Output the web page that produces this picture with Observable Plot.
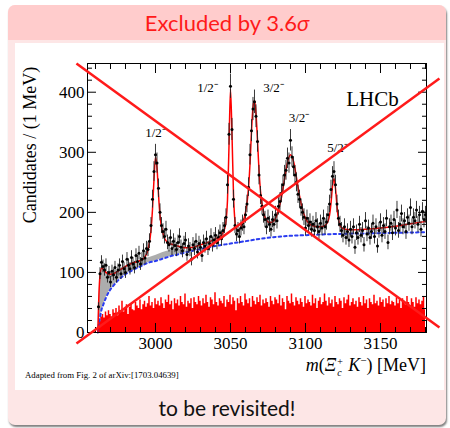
<!DOCTYPE html>
<html>
<head>
<meta charset="utf-8">
<script src="https://cdn.jsdelivr.net/npm/d3@7"></script>
<script src="https://cdn.jsdelivr.net/npm/@observablehq/plot@0.6"></script>
<style>
  body { margin:0; width:450px; height:428px; background:#fff; position:relative; overflow:hidden; }
  #block { position:absolute; left:8px; top:5px; width:438px; height:420px; border-radius:7px; background:#fde6e6; box-shadow:1px 2px 2px rgba(0,0,0,0.5); overflow:hidden; }
  #title { position:absolute; left:0; top:0; width:100%; height:35px; background:#ffcccc; color:#ff1a1a; font-family:Lato, sans-serif; font-size:22px; line-height:35px; text-align:center; }
  #panel { position:absolute; left:7px; top:38px; width:429px; height:347px; background:#fff; }
  #footer { position:absolute; left:0; top:390px; width:100%; text-align:center; font-family:Lato, sans-serif; font-size:21px; color:#111; }
  .serif { font-family:"Liberation Serif", serif; color:#000; position:absolute; white-space:nowrap; }
  .stack { display:inline-block; vertical-align:-5px; line-height:11px; font-size:10px; margin-left:1px; margin-right:1px; }
  .stack span { display:block; }
</style>
</head>
<body>
<div id="block">
  <div id="title">Excluded by 3.6<i>σ</i></div>
  <div id="panel">
    <div id="chart" style="position:absolute;left:0;top:0"></div>
    <div class="serif" style="left:15px;top:102px;font-size:18px;transform:translate(-50%,-50%) rotate(-90deg);">Candidates / (1 MeV)</div>
    <div class="serif" id="xlabel" style="right:18px;top:311px;font-size:18px;"><i>m</i>(<i>Ξ</i><span class="stack"><span>+</span><span><i>c</i></span></span> <i>K</i><sup style="font-size:11px;">−</sup>) [MeV]</div>
    <div class="serif" style="left:10px;top:327px;font-size:8.8px;">Adapted from Fig. 2 of arXiv:[1703.04639]</div>
  </div>
  <div id="footer">to be revisited!</div>
</div>
<script>
// ---------- data ----------
const massStart = 2962; // first 1 MeV bin centre
const candidates = [
  43, 98, 117, 110, 104, 112, 92, 100, 84, 102,
  96, 108, 92, 104, 112, 98, 118, 106, 100, 122,
  112, 106, 125, 114, 108, 128, 118, 132, 114, 122,
  136, 124, 140, 138, 152, 178, 222, 268, 296, 282,
  240, 200, 178, 168, 160, 172, 150, 146, 158, 140,
  152, 145, 138, 150, 160, 142, 136, 148, 154, 130,
  144, 138, 122, 146, 140, 152, 134, 148, 142, 128,
  150, 144, 156, 140, 148, 160, 146, 154, 162, 150,
  158, 166, 156, 170, 178, 192, 246, 330, 410, 338,
  222, 178, 164, 170, 160, 174, 182, 176, 196, 214,
  242, 296, 336, 372, 384, 360, 318, 262, 228, 210,
  196, 188, 176, 190, 180, 172, 188, 180, 196, 186,
  210, 218, 232, 246, 262, 270, 290, 282, 320, 292,
  276, 262, 250, 230, 222, 208, 200, 192, 174, 190,
  178, 184, 172, 180, 170, 186, 176, 168, 182, 174,
  190, 176, 184, 196, 214, 238, 260, 268, 246, 214,
  190, 180, 170, 162, 176, 158, 168, 154, 172, 160,
  176, 142, 166, 158, 180, 162, 170, 146, 186, 164,
  174, 158, 168, 182, 160, 176, 144, 170, 184, 162,
  178, 168, 190, 150, 176, 182, 166, 188, 174, 204,
  170, 180, 198, 176, 186, 168, 192, 182, 208, 176,
  192, 186, 204, 180, 196, 172, 202, 188, 196
];
const wrongSign = [
  8, 18, 26, 30, 24, 34, 28, 36, 30, 26,
  38, 32, 40, 28, 44, 36, 52, 34, 40, 46,
  30, 42, 48, 38, 36, 50, 44, 40, 54, 38,
  46, 52, 42, 48, 60, 44, 50, 40, 56, 46,
  52, 44, 58, 48, 40, 54, 50, 62, 46, 52,
  38, 56, 48, 54, 44, 60, 50, 46, 64, 42,
  52, 48, 56, 40, 58, 50, 46, 60, 52, 44,
  56, 48, 62, 50, 42, 58, 54, 46, 66, 50,
  44, 56, 52, 48, 60, 42, 54, 50, 62, 46,
  58, 52, 36, 56, 48, 60, 50, 44, 64, 54,
  48, 56, 42, 60, 52, 46, 58, 50, 62, 44,
  54, 48, 56, 50, 42, 60, 52, 46, 58, 54,
  48, 62, 44, 56, 50, 38, 60, 52, 48, 64,
  50, 44, 58, 52, 46, 56, 50, 42, 60, 48,
  54, 50, 44, 62, 48, 56, 40, 52, 58, 46,
  50, 64, 52, 44, 58, 48, 54, 42, 60, 50,
  46, 56, 52, 40, 58, 48, 54, 62, 44, 50,
  56, 46, 52, 42, 58, 50, 44, 60, 48, 54,
  40, 56, 50, 46, 62, 48, 52, 44, 58, 50,
  54, 42, 56, 48, 60, 46, 52, 50, 44, 58,
  48, 54, 40, 56, 52, 46, 60, 50, 44, 56,
  50, 42, 58, 48, 54, 46, 52, 60, 38
];
const fitMass = [2961.6, 2962, 2963, 2964, 2965, 2967, 2969, 2972, 2976, 2980, 2985, 2990, 2993, 2995, 2997, 2998, 2999, 3000, 3001, 3002, 3003, 3005, 3008, 3012, 3016, 3020, 3025, 3030, 3035, 3040, 3043, 3045, 3046, 3047, 3048, 3049, 3050, 3051, 3052, 3053, 3054, 3055, 3056, 3057, 3058, 3060, 3062, 3063, 3064, 3065, 3066, 3067, 3068, 3069, 3070, 3072, 3074, 3076, 3078, 3080, 3082, 3084, 3086, 3088, 3090, 3092, 3094, 3096, 3098, 3100, 3103, 3106, 3110, 3113, 3115, 3116, 3117, 3118, 3119, 3120, 3121, 3122, 3123, 3125, 3130, 3140, 3150, 3160, 3170, 3180.5];
const fitValue = [0, 40, 95, 107, 106, 100, 97, 98, 104, 110, 116, 120, 126, 138, 170, 205, 255, 292, 275, 230, 195, 165, 150, 146, 143, 141, 142, 146, 150, 156, 160, 166, 172, 185, 220, 310, 405, 330, 230, 185, 172, 170, 172, 176, 182, 200, 240, 280, 335, 375, 386, 365, 320, 270, 235, 200, 187, 183, 184, 190, 204, 225, 255, 283, 296, 285, 258, 228, 205, 190, 180, 177, 176, 178, 185, 195, 215, 243, 256, 240, 210, 188, 178, 173, 171, 172, 174, 177, 181, 185];
const bgMass = [2961.6, 2962, 2963, 2964, 2965, 2967, 2969, 2972, 2976, 2980, 2985, 2990, 2995, 3000, 3005, 3010, 3015, 3018, 3022, 3030, 3040, 3050, 3060, 3070, 3080, 3090, 3100, 3120, 3140, 3160, 3180.5];
const bgValue = [0, 10, 25, 38, 45, 58, 68, 78, 89, 97, 104, 110, 116, 119, 123, 127, 130, 132, 134.5, 139, 144, 148, 152, 156, 159, 161, 162, 164, 165, 166, 167];
const feedDownTop = [0, 40, 95, 107, 106, 100, 97, 98, 104, 110, 116, 120, 124, 128, 133, 137, 139, 137, 134.5]; // same masses as first bgMass entries
const stateLabels = [
  {m: 3000, v: 333, t: "1/2⁻"},
  {m: 3034.7, v: 408, t: "1/2⁻"},
  {m: 3078.7, v: 408, t: "3/2⁻"},
  {m: 3095.7, v: 358, t: "3/2⁻"},
  {m: 3121.3, v: 307, t: "5/2⁻"}
];
const crossLines = [
  {m1: 2947.3, v1: 447.8, m2: 3189.3, v2: 8.3},
  {m1: 2947.3, v1: -18.3, m2: 3189.3, v2: 423}
];
const xMajor = [3000, 3050, 3100, 3150];
const xMinor = [2960, 2970, 2980, 2990, 3010, 3020, 3030, 3040, 3060, 3070, 3080, 3090, 3110, 3120, 3130, 3140, 3160, 3170, 3180];
const yMajor = [0, 100, 200, 300, 400];
const yMinor = [20, 40, 60, 80, 120, 140, 160, 180, 220, 240, 260, 280, 320, 340, 360, 380, 420, 440];

// ---------- tables ----------
const points = candidates.map((v, i) => ({m: massStart + i, v, err: Math.sqrt(v)}));
const hist = wrongSign.map((v, i) => ({m: massStart + i, v}));
const fit = fitMass.map((m, i) => ({m, v: fitValue[i]}));
const bg = bgMass.map((m, i) => ({m, v: bgValue[i]}));
const grey = feedDownTop.map((t, i) => ({m: bgMass[i], lo: bgValue[i], hi: t}));
const blank = () => "";

const chart = Plot.plot({
  width: 429, height: 347,
  marginLeft: 72, marginRight: 18, marginTop: 20, marginBottom: 58,
  x: {domain: [2954.67, 3180.67]},
  y: {domain: [0, 447.8]},
  style: {fontFamily: "'Liberation Serif', serif", fontSize: "17px", color: "#000", background: "transparent", overflow: "visible"},
  marks: [
    Plot.areaY(hist, {x: "m", y: "v", curve: "step", fill: "#ff0000"}),
    Plot.areaY(grey, {x: "m", y1: "lo", y2: "hi", fill: "#adadad"}),
    Plot.line(bg, {x: "m", y: "v", stroke: "#2a3cf0", strokeWidth: 2, strokeDasharray: "2.5,3", curve: "monotone-x"}),
    Plot.line(fit, {x: "m", y: "v", stroke: "#ff0000", strokeWidth: 1.5, curve: "monotone-x"}),
    Plot.ruleX(points, {x: "m", y1: d => d.v - d.err, y2: d => d.v + d.err, stroke: "#222", strokeWidth: 0.9}),
    Plot.dot(points, {x: "m", y: "v", r: 1.5, fill: "#000"}),
    Plot.text(stateLabels, {x: "m", y: "v", text: "t", fontSize: 13, fill: "#000"}),
    Plot.text(["LHCb"], {x: 3144.7, y: 389, text: d => d, fontSize: 21, fill: "#000"}),
    Plot.frame({stroke: "#000", strokeWidth: 1}),
    Plot.axisX(xMajor, {anchor: "bottom", tickSize: 0, tickPadding: 4, label: null, fontSize: 17, tickFormat: d => String(d)}),
    Plot.axisX(xMajor, {anchor: "bottom", tickSize: -9, tickFormat: blank, label: null}),
    Plot.axisX(xMinor, {anchor: "bottom", tickSize: -5, tickFormat: blank, label: null}),
    Plot.axisX(xMajor, {anchor: "top", tickSize: -9, tickFormat: blank, label: null}),
    Plot.axisX(xMinor, {anchor: "top", tickSize: -5, tickFormat: blank, label: null}),
    Plot.axisY(yMajor, {anchor: "left", tickSize: 0, tickPadding: 3, label: null, fontSize: 17, tickFormat: d => String(d)}),
    Plot.axisY(yMajor, {anchor: "left", tickSize: -9, tickFormat: blank, label: null}),
    Plot.axisY(yMinor, {anchor: "left", tickSize: -5, tickFormat: blank, label: null}),
    Plot.axisY(yMajor, {anchor: "right", tickSize: -9, tickFormat: blank, label: null}),
    Plot.axisY(yMinor, {anchor: "right", tickSize: -5, tickFormat: blank, label: null}),
    Plot.link(crossLines, {x1: "m1", y1: "v1", x2: "m2", y2: "v2", stroke: "#ff1a1a", strokeWidth: 2.5})
  ]
});
document.getElementById("chart").appendChild(chart);
</script>
</body>
</html>
